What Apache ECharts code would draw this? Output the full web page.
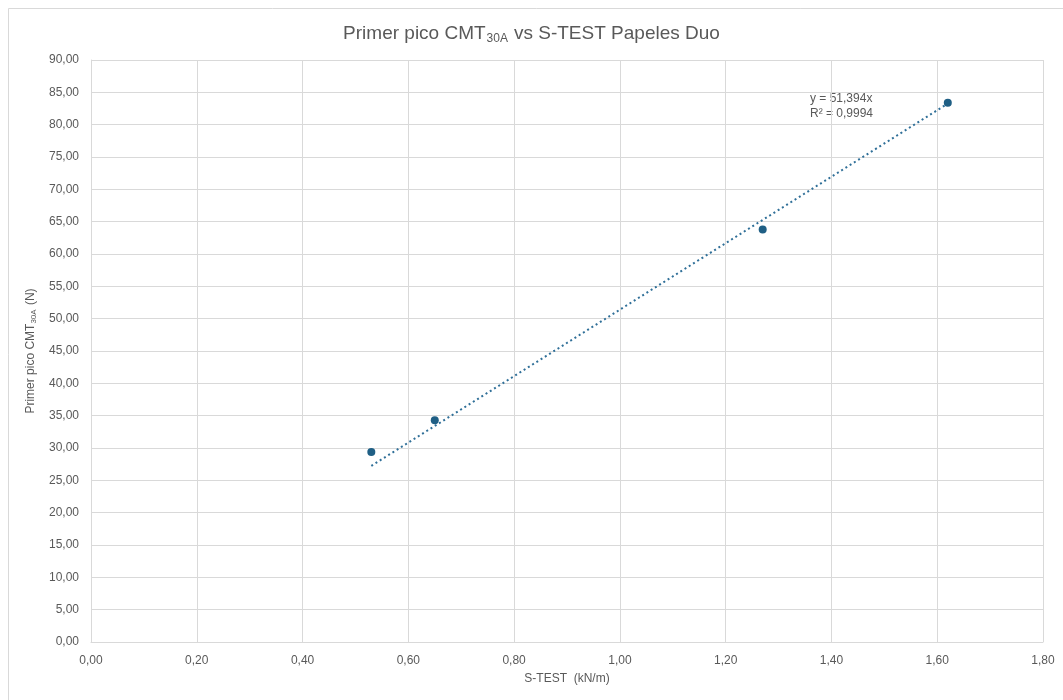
<!DOCTYPE html>
<html>
<head>
<meta charset="utf-8">
<script src="https://cdn.jsdelivr.net/npm/echarts@6/dist/echarts.min.js"></script>
<style>
  html, body { margin: 0; padding: 0; background: #fff; }
  #main { width: 1063px; height: 700px; }
</style>
</head>
<body>
<div id="main"></div>
<script>
// S-TEST (kN/m) vs primer pico CMT30A (N)
var sTest = [0.53, 0.65, 1.27, 1.62];
var cmt30a = [29.4, 34.3, 63.8, 83.4];
var slope = 51.394;   // tendencia lineal (y = 51,394x)
var r2 = 0.9994;

var chart = echarts.init(document.getElementById('main'));

function fmt(v, d) {
  return v.toFixed(d).replace('.', ',');
}

var points = sTest.map(function (x, i) { return [x, cmt30a[i]]; });
var xMin = Math.min.apply(null, sTest);
var xMax = Math.max.apply(null, sTest);
var trend = [[xMin, slope * xMin], [xMax, slope * xMax]];

var grey = '#595959';

var option = {
  backgroundColor: '#fff',
  textStyle: { fontFamily: 'Liberation Sans, Arial, sans-serif' },
  title: {
    text: '{a|Primer pico CMT}{s|30A}{a|vs S-TEST Papeles Duo}',
    left: 'center',
    top: 18,
    textStyle: {
      rich: {
        a: { fontSize: 19, color: grey, fontWeight: 'normal', fontFamily: 'Liberation Sans' },
        s: { fontSize: 12, color: grey, fontWeight: 'normal', fontFamily: 'Liberation Sans', padding: [10, 6, 0, 1] }
      }
    }
  },
  grid: { left: 91, right: 20, top: 60, bottom: 58 },
  xAxis: {
    type: 'value',
    min: 0,
    max: 1.8,
    interval: 0.2,
    name: 'S-TEST  (kN/m)',
    nameLocation: 'middle',
    nameGap: 31,
    nameTextStyle: { color: grey, fontSize: 12 },
    axisLine: { lineStyle: { color: '#d9d9d9' } },
    axisTick: { show: false },
    axisLabel: { color: grey, fontSize: 12, margin: 13, formatter: function (v) { return fmt(v, 2); } },
    splitLine: { lineStyle: { color: '#d9d9d9' } }
  },
  yAxis: {
    type: 'value',
    min: 0,
    max: 90,
    interval: 5,
    name: '{a|Primer pico CMT}{s|30A}{a| (N)}',
    nameLocation: 'middle',
    nameGap: 50,
    nameTextStyle: {
      rich: {
        a: { fontSize: 12, color: grey },
        s: { fontSize: 8, color: grey, padding: [6, 1, 0, 0] }
      }
    },
    axisLine: { show: true, lineStyle: { color: '#d9d9d9' } },
    axisTick: { show: false },
    axisLabel: { color: grey, fontSize: 12, margin: 12, formatter: function (v) { return fmt(v, 2); } },
    splitLine: { lineStyle: { color: '#d9d9d9' } }
  },
  series: [
    {
      type: 'line',
      data: trend,
      symbol: 'none',
      lineStyle: { color: '#2f6f98', width: 2, type: [2, 3] },
      silent: true,
      z: 1
    },
    {
      type: 'scatter',
      data: points,
      symbolSize: 8,
      itemStyle: { color: '#1f5f85', opacity: 1 },
      z: 2
    }
  ],
  graphic: [
    {
      type: 'rect',
      left: 6,
      top: 6,
      shape: { width: 1200, height: 1000 },
      style: { fill: 'none', stroke: '#d9d9d9', lineWidth: 1 },
      silent: true
    },
    {
      type: 'text',
      left: 810,
      top: 91,
      style: {
        text: 'y = ' + fmt(slope, 3) + 'x\nR² = ' + fmt(r2, 4),
        fill: grey,
        font: '12px Liberation Sans',
        lineHeight: 15
      }
    }
  ]
};

chart.setOption(option);
</script>
</body>
</html>
